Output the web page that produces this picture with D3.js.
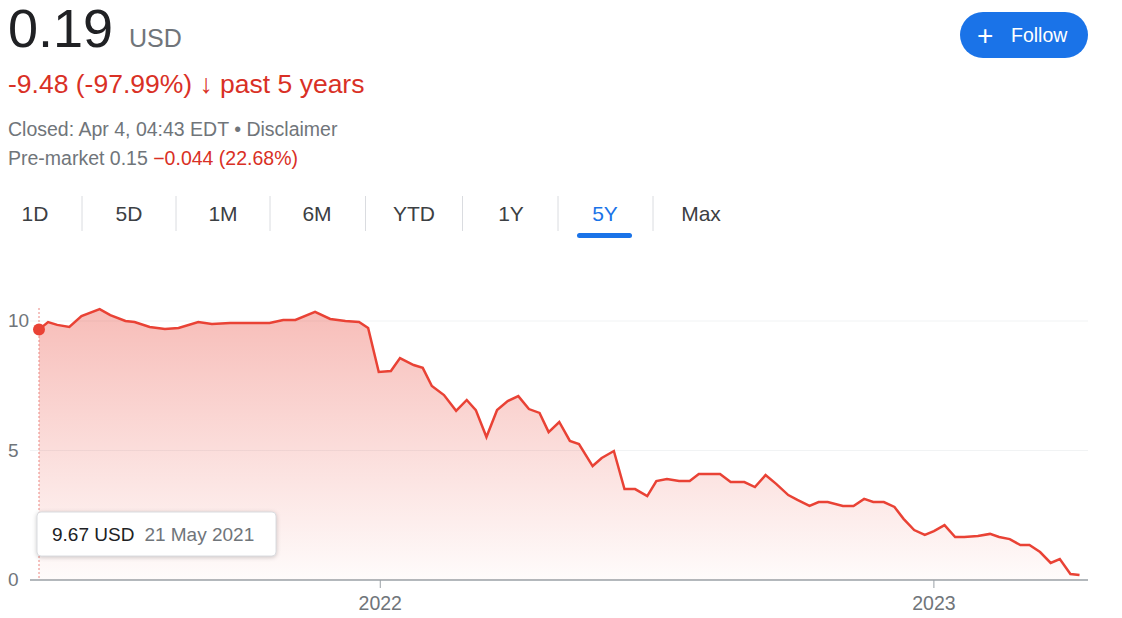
<!DOCTYPE html>
<html><head><meta charset="utf-8">
<script src="https://cdn.jsdelivr.net/npm/d3@7"></script>
<style>body{margin:0;background:#fff;font-family:"Liberation Sans",Arial,sans-serif}</style>
</head><body><svg id="c" width="1122" height="618"></svg>
<script>
const startDate="2021-05-21", endDate="2023-04-06";
const dayOffsets=[0,6,12,20,28,40,47,57,63,73,83,92,105,114,126,139,152,161,169,182,192,202,211,217,224,232,238,247,253,259,267,275,282,288,295,302,309,316,323,330,336,343,350,356,365,371,379,386,393,401,407,414,422,429,435,442,449,456,465,472,479,486,494,500,508,514,520,530,537,544,550,557,564,570,577,584,590,597,604,610,619,627,633,640,647,653,660,667,673,680,686];
const prices=[9.67,9.96,9.85,9.77,10.19,10.46,10.23,10.0,9.96,9.77,9.69,9.73,9.96,9.88,9.92,9.92,9.92,10.04,10.04,10.35,10.08,10.0,9.96,9.73,8.03,8.07,8.57,8.30,8.19,7.49,7.14,6.53,6.95,6.56,5.52,6.56,6.91,7.10,6.60,6.45,5.71,6.10,5.37,5.25,4.40,4.71,4.98,3.51,3.51,3.24,3.82,3.90,3.82,3.82,4.09,4.09,4.09,3.78,3.78,3.59,4.05,3.71,3.28,3.09,2.86,3.01,3.01,2.86,2.86,3.13,3.01,3.01,2.82,2.36,1.93,1.74,1.89,2.12,1.66,1.66,1.70,1.78,1.66,1.58,1.35,1.35,1.08,0.66,0.81,0.23,0.19];
const yTicks=[0,5,10];
const xTicks=["2022-01-01","2023-01-01"];
const tabs=["1D","5D","1M","6M","YTD","1Y","5Y","Max"];

const svg=d3.select("#c");
const p=d3.timeParse("%Y-%m-%d");
const t0=p(startDate),t1=p(endDate);
const data=prices.map((v,i)=>({d:d3.timeDay.offset(t0,dayOffsets[i]),v}));
const x=d3.scaleTime().domain([t0,t1]).range([39,1078]);
const y=d3.scaleLinear().domain([0,10]).range([580,321]);
const red="#e94235";

svg.append("text").attr("x",8).attr("y",47).attr("font-size",54).attr("fill","#202124").text("0.19");
svg.append("text").attr("x",129).attr("y",47).attr("font-size",25).attr("fill","#70757a").text("USD");
const h=svg.append("text").attr("x",8).attr("y",93).attr("font-size",26.5).attr("fill","#d93025");
h.append("tspan").text("-9.48 (-97.99%) ");
h.append("tspan").attr("font-weight","bold").text("\u2193");
h.append("tspan").text(" past 5 years");
svg.append("text").attr("x",8).attr("y",136).attr("font-size",19.5).attr("fill","#70757a").text("Closed: Apr 4, 04:43 EDT • Disclaimer");
const pm=svg.append("text").attr("x",8).attr("y",165).attr("font-size",19.5).attr("fill","#70757a");
pm.append("tspan").text("Pre-market 0.15 ");
pm.append("tspan").attr("fill","#d93025").text("\u22120.044 (22.68%)");
svg.append("rect").attr("x",960).attr("y",12).attr("width",128).attr("height",46).attr("rx",23).attr("fill","#1a73e8");
svg.append("text").attr("x",977).attr("y",45).attr("font-size",28).attr("fill","#fff").text("+");
svg.append("text").attr("x",1011).attr("y",42).attr("font-size",19.5).attr("fill","#fff").text("Follow");
const tx=[35,129,223,317,414,511,605,701];
tabs.forEach((t,i)=>{
  svg.append("text").attr("x",tx[i]).attr("y",221).attr("text-anchor","middle").attr("font-size",21)
    .attr("fill",t==="5Y"?"#1a73e8":"#3c4043").text(t);
  if(i<tabs.length-1) svg.append("line").attr("x1",(tx[i]+tx[i+1])/2).attr("x2",(tx[i]+tx[i+1])/2).attr("y1",196).attr("y2",231).attr("stroke","#dadce0");
});
svg.append("rect").attr("x",577).attr("y",233).attr("width",55).attr("height",5).attr("rx",2.5).attr("fill","#1a73e8");

yTicks.forEach(v=>{
  svg.append("line").attr("x1",30).attr("x2",1088).attr("y1",y(v)).attr("y2",y(v)).attr("stroke",v===0?"#9aa0a6":"#f1f3f4").attr("stroke-width",v===0?1.5:1);
  svg.append("text").attr("x",8).attr("y",y(v)+6).attr("font-size",19).attr("fill","#70757a").text(v);
});
xTicks.forEach(s=>{
  const xx=x(p(s));
  svg.append("line").attr("x1",xx).attr("x2",xx).attr("y1",580).attr("y2",588).attr("stroke","#9aa0a6");
  svg.append("text").attr("x",xx).attr("y",610).attr("text-anchor","middle").attr("font-size",19.5).attr("fill","#70757a").text(s.slice(0,4));
});

const g=svg.append("defs").append("linearGradient").attr("id","gr").attr("x1",0).attr("x2",0).attr("y1",0).attr("y2",1);
g.append("stop").attr("offset","0%").attr("stop-color",red).attr("stop-opacity",0.35);
g.append("stop").attr("offset","100%").attr("stop-color",red).attr("stop-opacity",0.02);
svg.append("path").datum(data).attr("fill","url(#gr)")
  .attr("d",d3.area().x(d=>x(d.d)).y0(y(0)).y1(d=>y(d.v)));
svg.append("path").datum(data).attr("fill","none").attr("stroke",red).attr("stroke-width",2.5)
  .attr("d",d3.line().x(d=>x(d.d)).y(d=>y(d.v)));

svg.append("line").attr("x1",x(t0)).attr("x2",x(t0)).attr("y1",308).attr("y2",580).attr("stroke","#ea8680").attr("stroke-dasharray","2,2");
svg.append("circle").attr("cx",x(t0)).attr("cy",y(prices[0])).attr("r",6).attr("fill",red);
svg.append("rect").attr("x",37).attr("y",512).attr("width",239).attr("height",44).attr("rx",4).attr("fill","#fff").attr("stroke","#dadce0")
  .style("filter","drop-shadow(0 1px 2px rgba(0,0,0,0.2))");
const tt=svg.append("text").attr("x",52).attr("y",541).attr("font-size",19).attr("fill","#202124");
tt.append("tspan").text("9.67 USD");
tt.append("tspan").attr("fill","#70757a").attr("dx",10).text("21 May 2021");
</script></body></html>
